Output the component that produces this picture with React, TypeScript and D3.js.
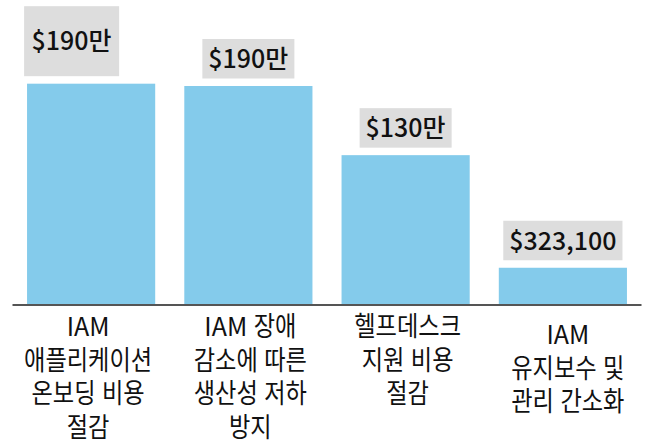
import React, { useRef, useEffect } from 'react';
import * as d3 from 'd3';

// chart data
const categories = [
  ['IAM', '애플리케이션', '온보딩 비용', '절감'],
  ['IAM 장애', '감소에 따른', '생산성 저하', '방지'],
  ['헬프데스크', '지원 비용', '절감'],
  ['IAM', '유지보수 및', '관리 간소화'],
];
const values = [1920000, 1900000, 1300000, 323100];
const valueLabels = ['$190만', '$190만', '$130만', '$323,100'];

const W = 649;
const H = 448;
const FONT = '"Noto Sans CJK KR", "Noto Sans", sans-serif';
// hangul runs: latin font first keeps the line box short, glyphs come from the CJK font
const HANGUL_FONT = '"Liberation Sans", "Noto Sans CJK KR", sans-serif';
const RUNS = /[A-Za-z0-9]+|[^A-Za-z0-9]+/g;
const LATIN = /^[A-Za-z0-9]+$/;
const HANGUL_SQUEEZE = 0.86;
// small offsets of the category labels, as in the source
const labelNudgeX = [-3, 2, 2, 5];
const labelNudgeY = [0, 0, 0, 8];

export default function App() {
  const svgRef = useRef<SVGSVGElement>(null);

  useEffect(() => {
    document.body.style.margin = '0';
    if (!svgRef.current) return;
    const svg = d3.select(svgRef.current);
    svg.selectAll('*').remove();

    const baseY = 305;
    const x = d3.scaleBand<number>()
      .domain(values.map((_, i) => i))
      .range([12.5, 641.5])
      .paddingInner(0.185)
      .paddingOuter(0.0925);
    const y = d3.scaleLinear().domain([0, 1900000]).range([baseY, 86]);

    // bars
    svg.append('g')
      .selectAll('rect')
      .data(values)
      .join('rect')
      .attr('x', (_, i) => x(i)!)
      .attr('y', d => y(d))
      .attr('width', x.bandwidth())
      .attr('height', d => baseY - y(d))
      .attr('fill', '#84CBEB');

    // baseline
    svg.append('line')
      .attr('x1', x.range()[0]).attr('x2', x.range()[1])
      .attr('y1', baseY).attr('y2', baseY)
      .attr('stroke', '#555').attr('stroke-width', 2);

    // value labels in grey boxes
    const labels = svg.append('g');
    values.forEach((v, i) => {
      const cx = x(i)! + x.bandwidth() / 2;
      const bottom = y(v) - 7.5;
      const g = labels.append('g');
      const rect = g.append('rect').attr('fill', '#DDDDDD');
      const t = g.append('text')
        .attr('font-family', FONT)
        .attr('font-size', 25)
        .attr('font-weight', 500)
        .attr('fill', '#111')
        .attr('text-anchor', 'middle')
        .text(valueLabels[i]);
      const tw = (t.node() as SVGTextElement).getComputedTextLength();
      let bw = tw + 12;
      let bh = 39.5;
      let bx = cx - bw / 2;
      let by = bottom - bh;
      // first box sits higher and further left in the source
      if (i === 0) {
        bx -= 21;
        bw += 3;
        by -= 30.5;
        bh += 30.5;
      }
      rect.attr('x', bx).attr('y', by).attr('width', bw).attr('height', bh);
      t.attr('x', bx + bw / 2).attr('y', by + bh / 2 + 9);
    });

    // category labels, hangul drawn narrower than latin
    const cats = svg.append('g');
    categories.forEach((lines, i) => {
      const cx = x(i)! + x.bandwidth() / 2 + labelNudgeX[i];
      lines.forEach((line, j) => {
        const ly = 336 + j * 33.5 + labelNudgeY[i];
        const lg = cats.append('g');
        const runs = line.match(RUNS) || [];
        let cursor = 0;
        runs.forEach(run => {
          const isLatin = LATIN.test(run);
          const sx = isLatin ? 1 : HANGUL_SQUEEZE;
          const rg = lg.append('g');
          const t = rg.append('text')
            .attr('font-family', isLatin ? FONT : HANGUL_FONT)
            .attr('font-size', isLatin ? 25 : 27)
            .attr('fill', '#111')
            .style('white-space', 'pre')
            .text(run);
          const w = (t.node() as SVGTextElement).getComputedTextLength() * sx;
          rg.attr('transform', `translate(${cursor},0) scale(${sx},1)`);
          cursor += w;
        });
        lg.attr('transform', `translate(${cx - cursor / 2},${ly})`);
      });
    });
  }, []);

  return (
    <svg ref={svgRef} width={W} height={H} style={{ display: 'block', background: '#fff' }} />
  );
}
